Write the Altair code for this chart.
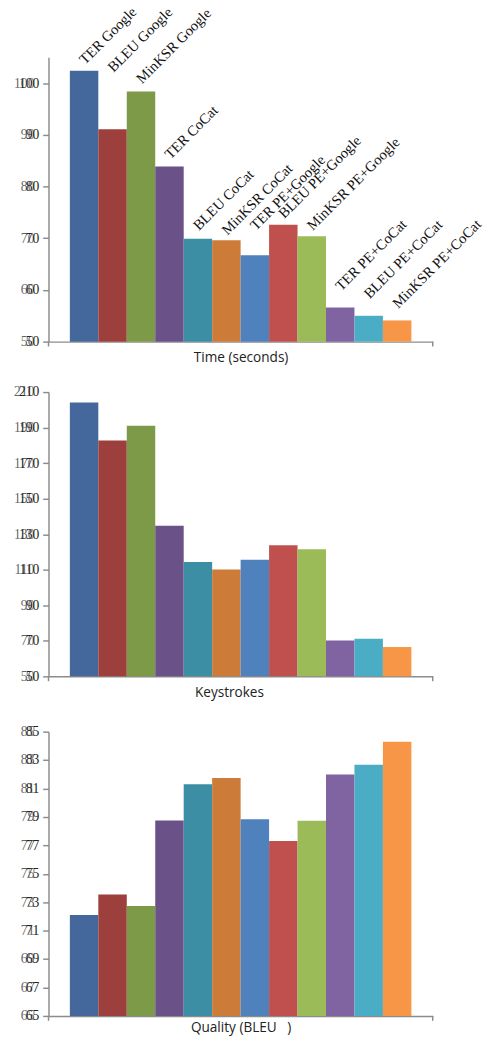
import altair as alt
import pandas as pd

# Post-editing conditions, in plotting order
systems = [
    "TER Google", "BLEU Google", "MinKSR Google",
    "TER CoCat", "BLEU CoCat", "MinKSR CoCat",
    "TER PE+Google", "BLEU PE+Google", "MinKSR PE+Google",
    "TER PE+CoCat", "BLEU PE+CoCat", "MinKSR PE+CoCat",
]
colors = [
    "#44689b", "#9d3f3d", "#7c9a47", "#6a5188", "#3c8ea5", "#cc7b39",
    "#4f81bd", "#c0504d", "#9bbb59", "#8064a2", "#4bacc6", "#f79646",
]

time_sec = [102.4, 91.1, 98.4, 83.9, 69.9, 69.6, 66.7, 72.6, 70.4, 56.6, 55.0, 54.1]
keystrokes = [204.2, 182.7, 191.1, 134.7, 114.4, 110.2, 115.6, 123.8, 121.5, 70.2, 71.1, 66.5]
quality = [72.1, 73.55, 72.73, 78.75, 81.3, 81.74, 78.84, 77.31, 78.73, 81.99, 82.67, 84.29]

# Height (in seconds) at which each condition's name is written in the top panel
label_level = [103.7, 102.2, 100.0, 85.4, 71.6, 70.7, 71.6, 73.9, 71.6, 59.9, 58.4, 56.5]

time_ticks = [50, 60, 70, 80, 90, 100]
key_ticks = [50, 70, 90, 110, 130, 150, 170, 190, 210]
qual_ticks = [65, 67, 69, 71, 73, 75, 77, 79, 81, 83, 85]

df = pd.DataFrame({
    "system": systems,
    "time": time_sec,
    "keys": keystrokes,
    "quality": quality,
    "label_level": label_level,
})

W, H = 396, 293
AX = "#8c8c8c"
SERIF = "Liberation Serif"


def y_axis(ticks, echo=False):
    common = dict(
        values=ticks, orient="left", title=None, grid=False,
        tickSize=6, tickWidth=1.5, tickColor=AX,
        labelFont=SERIF, labelFontSize=14, labelPadding=4,
    )
    if echo:
        # faint duplicate of the tick labels, nudged to the left
        return alt.Axis(**common, domain=False, tickOpacity=0, offset=5,
                        labelColor="#3a3a3a", labelOpacity=0.8)
    return alt.Axis(**common, domainColor=AX, domainWidth=1.5, labelColor="#222222")


def panel(field, title, domain, ticks, with_labels=False, title_x=W / 2, title_pad=10):
    x = alt.X(
        "system:N", sort=systems,
        scale=alt.Scale(paddingInner=0, paddingOuter=0.75),
        axis=alt.Axis(
            title=title, labels=False, ticks=False, grid=False,
            domainColor=AX, domainWidth=1.5,
            titleFont="Open Sans", titleFontSize=14, titleFontWeight="normal",
            titleColor="#222222", titlePadding=title_pad, titleX=title_x,
        ),
    )
    yscale = alt.Scale(domain=domain, nice=False, zero=False)
    base = alt.Chart(df)

    bars = base.mark_bar().encode(
        x=x,
        y=alt.Y(f"{field}:Q", scale=yscale, axis=y_axis(ticks)),
        y2=alt.datum(domain[0]),
        color=alt.Color("system:N", scale=alt.Scale(domain=systems, range=colors), legend=None),
    )
    echo = base.mark_bar(opacity=0).encode(
        x=x,
        y=alt.Y(f"{field}:Q", scale=yscale, axis=y_axis(ticks, echo=True)),
        y2=alt.datum(domain[0]),
    )
    end_left = alt.Chart(pd.DataFrame({"k": [0]})).mark_rule(color=AX, strokeWidth=1.5).encode(
        x=alt.value(0), y=alt.value(H), y2=alt.value(H + 5))
    end_right = alt.Chart(pd.DataFrame({"k": [0]})).mark_rule(color=AX, strokeWidth=1.5).encode(
        x=alt.value(W), y=alt.value(H), y2=alt.value(H + 5))

    layers = [bars, echo, end_left, end_right]
    if with_labels:
        names = base.mark_text(
            angle=315, align="left", baseline="alphabetic", dx=0, dy=1.5,
            font=SERIF, fontSize=15, color="#111111",
        ).encode(
            x=x,
            y=alt.Y("label_level:Q", scale=yscale, axis=None),
            text="system:N",
        )
        layers.append(names)
    return alt.layer(*layers).resolve_axis(y="independent").properties(width=W, height=H)


top = panel("time", "Time (seconds)", [50, 105], time_ticks, with_labels=True)
middle = panel("keys", "Keystrokes", [50, 210], key_ticks, title_x=W / 2 - 12)
bottom = panel("quality", "Quality (BLEU\u00a0\u00a0\u00a0)", [65, 85], qual_ticks, title_pad=5)

chart = alt.vconcat(
    top,
    alt.vconcat(middle, bottom, spacing=26),
    spacing=21,
).properties(
    padding={"left": 14, "top": -12, "right": 5, "bottom": 0},
).configure_view(stroke=None)

chart.save("out.html", embed_options={"renderer": "svg", "actions": False})
